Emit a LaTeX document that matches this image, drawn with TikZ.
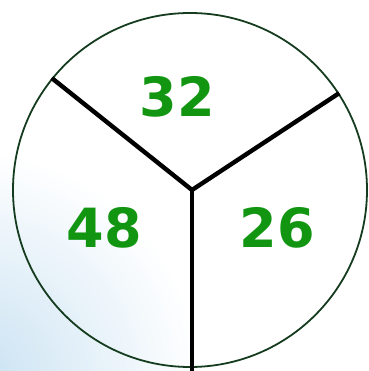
\documentclass[tikz,border=0pt]{standalone}
\usepackage{fontspec}
\newfontfamily\numfont{DejaVu Sans}
\usepackage{tikz}
\usetikzlibrary{positioning,calc}

\definecolor{numgreen}{RGB}{18,150,18}
\definecolor{rimcol}{RGB}{22,60,32}
\definecolor{haze}{RGB}{200,225,242}

\begin{document}
\begin{tikzpicture}[
  x=1pt, y=1pt,
  disc/.style={draw=rimcol, line width=1.8pt, circle, inner sep=0pt, minimum size=354pt},
  spoke/.style={draw=black, line width=4.4pt},
  num/.style={font=\numfont\bfseries\fontsize{54}{54}\selectfont, text=numgreen, inner sep=0pt},
]
\useasboundingbox (0,0) rectangle (368,371);
% faint blue haze in the lower left corner
\shade[inner color=haze, outer color=white] (-30,-10) circle (230);

\node[disc] (rim) at (190,181) {};
\coordinate (hub) at (192,181);
\coordinate (base) at (192,0);

\draw[spoke] (rim.141.7) -- (hub);
\draw[spoke] (rim.33.3) -- (hub);
\draw[spoke] (hub) -- (base);

\node[num] (top) at (177,274) {32};
\node[num] (left) at (104,143) {48};
\node[num] (right) at (277,143) {26};
\end{tikzpicture}
\end{document}
